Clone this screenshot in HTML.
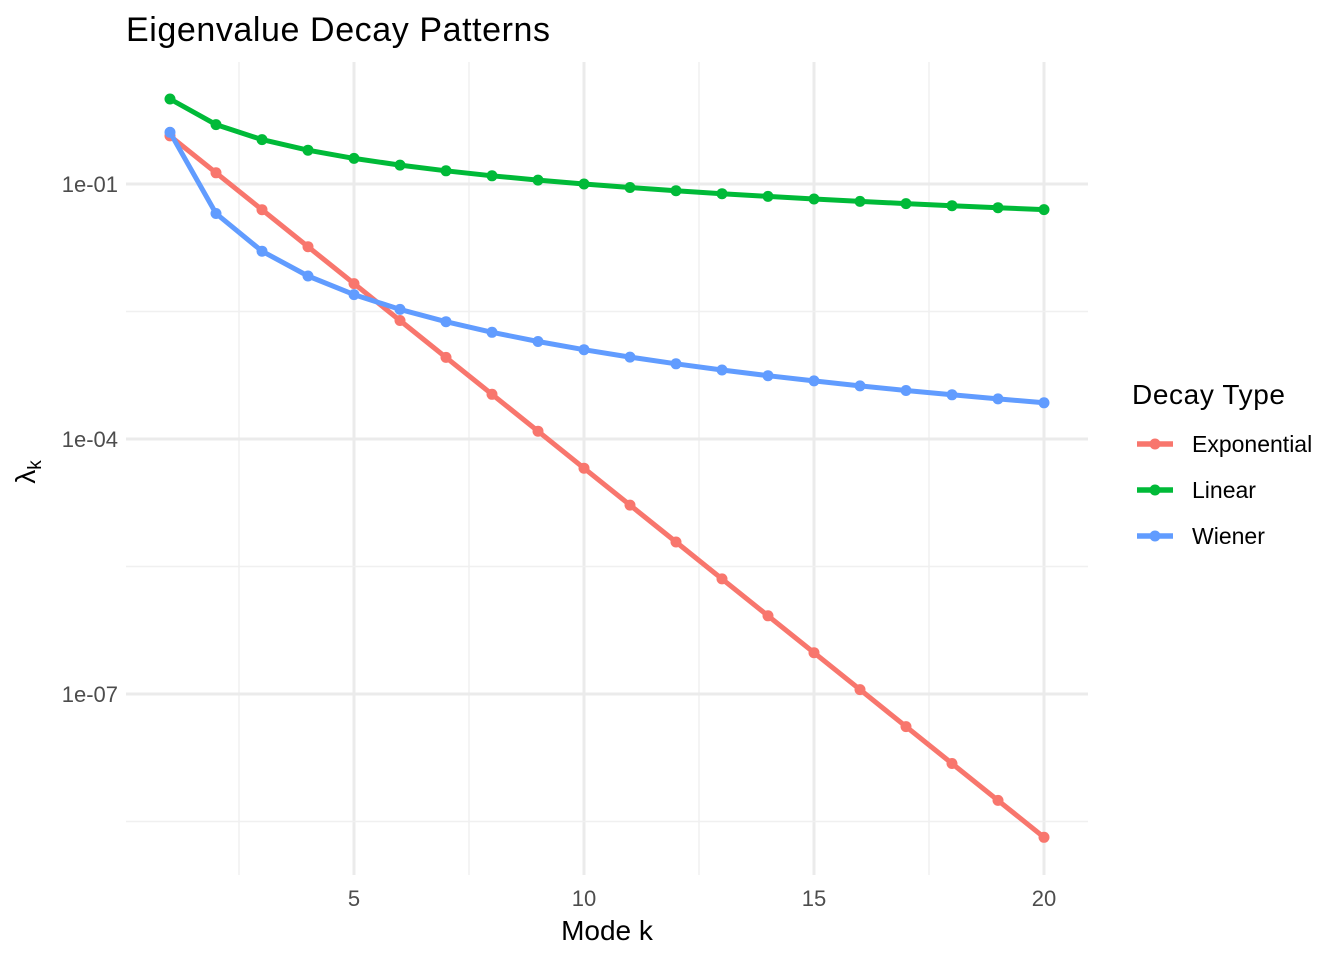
<!DOCTYPE html>
<html><head><meta charset="utf-8"><style>body{margin:0;background:#fff}svg{display:block}text{font-family:"Liberation Sans",sans-serif}</style></head>
<body>
<svg id="s" width="1344" height="960" xmlns="http://www.w3.org/2000/svg">
<rect width="1344" height="960" fill="#fff"/>
<g id="grid"></g>
<g id="data"></g>
<text x="126" y="41" font-size="34" fill="#000" textLength="424">Eigenvalue Decay Patterns</text>
<g font-size="22" fill="#4d4d4d" text-anchor="end">
<text x="118" y="192">1e-01</text><text x="118" y="447">1e-04</text><text x="118" y="702">1e-07</text>
</g>
<g font-size="22" fill="#4d4d4d" text-anchor="middle">
<text x="354" y="906">5</text><text x="584" y="906">10</text><text x="814" y="906">15</text><text x="1044" y="906">20</text>
</g>
<text x="607" y="940" font-size="28" text-anchor="middle">Mode k</text>
<text transform="translate(35,472) rotate(-90)" font-size="28" text-anchor="middle">λ<tspan font-size="19" dy="6">k</tspan></text>
<text x="1132" y="404" font-size="28" textLength="153">Decay Type</text>
<g stroke-width="5.5">
<line x1="1137" y1="444" x2="1173" y2="444" stroke="#F8766D"/><circle cx="1155" cy="444" r="5.5" fill="#F8766D"/>
<line x1="1137" y1="490" x2="1173" y2="490" stroke="#00BA38"/><circle cx="1155" cy="490" r="5.5" fill="#00BA38"/>
<line x1="1137" y1="536" x2="1173" y2="536" stroke="#619CFF"/><circle cx="1155" cy="536" r="5.5" fill="#619CFF"/>
</g>
<g font-size="23" fill="#000">
<text x="1192" y="452">Exponential</text><text x="1192" y="498">Linear</text><text x="1192" y="544">Wiener</text>
</g>
</svg>
<script>
var NS="http://www.w3.org/2000/svg",g=document.getElementById('grid'),d=document.getElementById('data');
function el(p,t,a){var e=document.createElementNS(NS,t);for(var k in a)e.setAttribute(k,a[k]);p.appendChild(e);return e;}
var L=126,R=1088,T=62,B=875;
[239,469,699,929].forEach(function(x){el(g,'line',{x1:x,x2:x,y1:T,y2:B,stroke:'#f0f0f0','stroke-width':1.5});});
[354,584,814,1044].forEach(function(x){el(g,'line',{x1:x,x2:x,y1:T,y2:B,stroke:'#ebebeb','stroke-width':3});});
[56.5,311.5,566.5,821.5].forEach(function(y){if(y>T)el(g,'line',{x1:L,x2:R,y1:y,y2:y,stroke:'#f0f0f0','stroke-width':1.5});});
[184,439,694].forEach(function(y){el(g,'line',{x1:L,x2:R,y1:y,y2:y,stroke:'#ebebeb','stroke-width':3});});
function X(k){return 170+46*(k-1);}function Y(v){return 184-85*(Math.log10(v)+1);}
var S=[['#F8766D',function(k){return Math.exp(-k);}],['#00BA38',function(k){return 1/k;}],['#619CFF',function(k){return 1/((k-0.5)*(k-0.5)*Math.PI*Math.PI);}]];
S.forEach(function(s){var pts=[];for(var k=1;k<=20;k++)pts.push(X(k).toFixed(1)+','+Y(s[1](k)).toFixed(1));
el(d,'polyline',{points:pts.join(' '),fill:'none',stroke:s[0],'stroke-width':5,'stroke-linejoin':'round'});
pts.forEach(function(p){var q=p.split(',');el(d,'circle',{cx:q[0],cy:q[1],r:5.5,fill:s[0]});});});
</script>
</body></html>
